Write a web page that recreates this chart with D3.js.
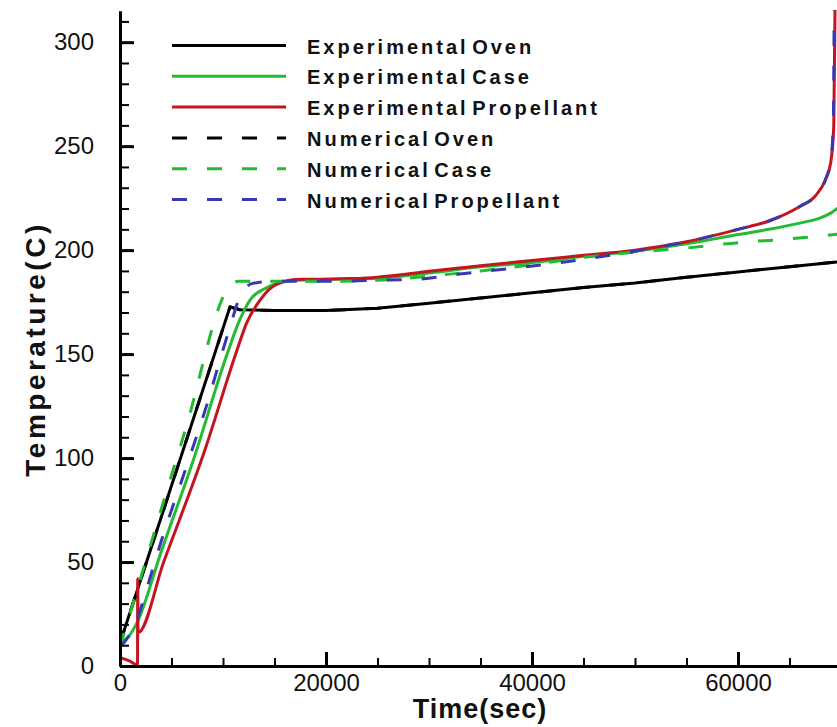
<!DOCTYPE html>
<html><head><meta charset="utf-8">
<script src="https://cdn.jsdelivr.net/npm/d3@7/dist/d3.min.js"></script>
<style>
html,body{margin:0;padding:0;background:#fff;}
svg{display:block;}
</style></head>
<body>
<svg id="chart" width="837" height="727"></svg>
<script>
// ---- data: [time (sec), temperature (C)] ----
const expOven = [[0,11],[10680,172.7],[11650,171.3],[15000,171],[20000,171],[25000,172],[30000,174.5],[35000,177],[40000,179.5],[45000,182],[50000,184.2],[55000,187],[60000,189.5],[65000,192],[70000,194.5]];
const expCase = [[0,11],[800,14],[1620,20.5],[4000,55],[7120,99],[10400,150],[11500,165],[12620,176],[14270,182],[16200,185],[20000,186],[25000,186.5],[30000,189],[35000,192],[40000,194],[45000,197],[50000,199.5],[55000,203],[60000,207.5],[63000,210],[66000,213],[68000,215.5],[69000,217.8],[70000,221.5]];
const expProp = [[0,4],[900,2.5],[1700,0.5],[1720,42],[1750,16],[4240,50],[8250,104],[11300,151],[12300,165],[13600,176],[15200,183.5],[17500,186],[20000,186],[22500,186.3],[25000,187],[27500,188.3],[30000,189.8],[35000,192.5],[40000,195],[45000,197.5],[50000,200],[55000,204],[60000,210],[63000,214],[66000,221],[67500,226],[68500,234],[69000,242],[69300,260],[69450,330]];
const numOven = [[0,11],[10680,172.7],[11650,171.3],[15000,171],[20000,171],[25000,172],[30000,174.5],[35000,177],[40000,179.5],[45000,182],[50000,184.2],[55000,187],[60000,189.5],[65000,192],[70000,194.5]];
const numCase = [[0,9],[6310,113],[10700,183],[11500,185],[12800,185],[20000,185],[25000,185.5],[30000,187.5],[35000,190],[40000,193],[45000,196.5],[50000,199],[55000,201],[60000,203.6],[65000,205.4],[70000,207.8]];
const numProp = [[0,9],[800,14],[1600,21],[2100,29],[4000,60],[6800,101],[8580,128],[9750,148],[10680,163],[11590,177],[12880,184],[15000,185],[20000,185],[25000,185.5],[28800,186],[33000,188.5],[38500,191.5],[42700,194],[45600,196],[50000,199.5],[55000,204],[60000,210],[63000,214],[66000,221],[67500,226],[68500,234],[69000,243],[69250,260],[69350,330]];

const seriesNames = ["Experimental Oven","Experimental Case","Experimental Propellant","Numerical Oven","Numerical Case","Numerical Propellant"];
const seriesData = [expOven, expCase, expProp, numOven, numCase, numProp];
const seriesColors = ["#000000","#22bb33","#c41420","#000000","#22bb33","#3838b0"];
const seriesDashed = [false,false,false,true,true,true];
const seriesSmooth = [false,true,true,false,true,true];

const xMajorTicks = [0,20000,40000,60000];
const xMinorTicks = [5000,10000,15000,25000,30000,35000,45000,50000,55000,65000];
const yMajorTicks = [0,50,100,150,200,250,300];
const yMinorTicks = [10,20,30,40,60,70,80,90,110,120,130,140,160,170,180,190,210,220,230,240,260,270,280,290,310];

// ---- layout ----
const svg = d3.select("#chart");
const x = d3.scaleLinear().domain([0,70000]).range([120,841]);
const y = d3.scaleLinear().domain([0,315]).range([666,11]);

svg.append("defs").append("clipPath").attr("id","clip")
  .append("rect").attr("x",120).attr("y",10).attr("width",720).attr("height",657);

const lineSmooth = d3.line().x(d=>x(d[0])).y(d=>y(d[1])).curve(d3.curveMonotoneX);
const lineStraight = d3.line().x(d=>x(d[0])).y(d=>y(d[1])).curve(d3.curveLinear);

const plot = svg.append("g").attr("clip-path","url(#clip)");
seriesData.forEach((data,i)=>{
  plot.append("path")
    .attr("d", (seriesSmooth[i] ? lineSmooth : lineStraight)(data))
    .attr("fill","none")
    .attr("stroke",seriesColors[i])
    .attr("stroke-width",3)
    .attr("stroke-linejoin","round")
    .attr("stroke-dasharray", seriesDashed[i] ? "15,20" : null);
});

// ---- axes ----
const fontTick = "'Liberation Sans', Arial, sans-serif";
const xAxisMajor = svg.append("g").attr("transform","translate(0,666)")
  .call(d3.axisBottom(x).tickValues(xMajorTicks).tickSizeInner(-14).tickSizeOuter(0).tickPadding(22).tickFormat(d3.format("d")));
const xAxisMinor = svg.append("g").attr("transform","translate(0,666)")
  .call(d3.axisBottom(x).tickValues(xMinorTicks).tickSizeInner(-8).tickSizeOuter(0).tickFormat(""));
const yAxisMajor = svg.append("g").attr("transform","translate(120,0)")
  .call(d3.axisLeft(y).tickValues(yMajorTicks).tickSizeInner(-14).tickSizeOuter(0).tickPadding(26));
const yAxisMinor = svg.append("g").attr("transform","translate(120,0)")
  .call(d3.axisLeft(y).tickValues(yMinorTicks).tickSizeInner(-9).tickSizeOuter(0).tickFormat(""));

[xAxisMajor,xAxisMinor,yAxisMajor,yAxisMinor].forEach(g=>{
  g.select(".domain").attr("stroke","#000").attr("stroke-width",3);
  g.selectAll(".tick text").attr("fill","#111").style("font-family",fontTick).style("font-size","24px");
});
xAxisMajor.selectAll(".tick line").attr("stroke-width",3);
yAxisMajor.selectAll(".tick line").attr("stroke-width",3);
xAxisMinor.selectAll(".tick line").attr("stroke-width",2);
yAxisMinor.selectAll(".tick line").attr("stroke-width",2);
xAxisMajor.selectAll(".tick text").attr("dy","0.35em").attr("y",17);

// axis titles
svg.append("text").attr("x",480).attr("y",718).attr("text-anchor","middle")
  .style("font-family",fontTick).style("font-weight","bold").style("font-size","27px")
  .style("letter-spacing","1px")
  .attr("fill","#111").text("Time(sec)");
svg.append("text").attr("transform","translate(45,349) rotate(-90)").attr("text-anchor","middle")
  .style("font-family",fontTick).style("font-weight","bold").style("font-size","28px")
  .style("letter-spacing","3.5px")
  .attr("fill","#111").text("Temperature(C)");

// ---- legend ----
const legend = svg.append("g");
seriesNames.forEach((name,i)=>{
  const ly = 45.5 + i*30.8;
  legend.append("line").attr("x1",172).attr("x2",286).attr("y1",ly).attr("y2",ly)
    .attr("stroke",seriesColors[i]).attr("stroke-width",3)
    .attr("stroke-dasharray", seriesDashed[i] ? "15,20" : null);
  legend.append("text").attr("x",307).attr("y",ly+8)
    .style("font-family",fontTick).style("font-weight","bold").style("font-size","20px")
    .style("letter-spacing","3px").style("word-spacing","-5px")
    .attr("fill","#111").text(name);
});
</script>
</body></html>
